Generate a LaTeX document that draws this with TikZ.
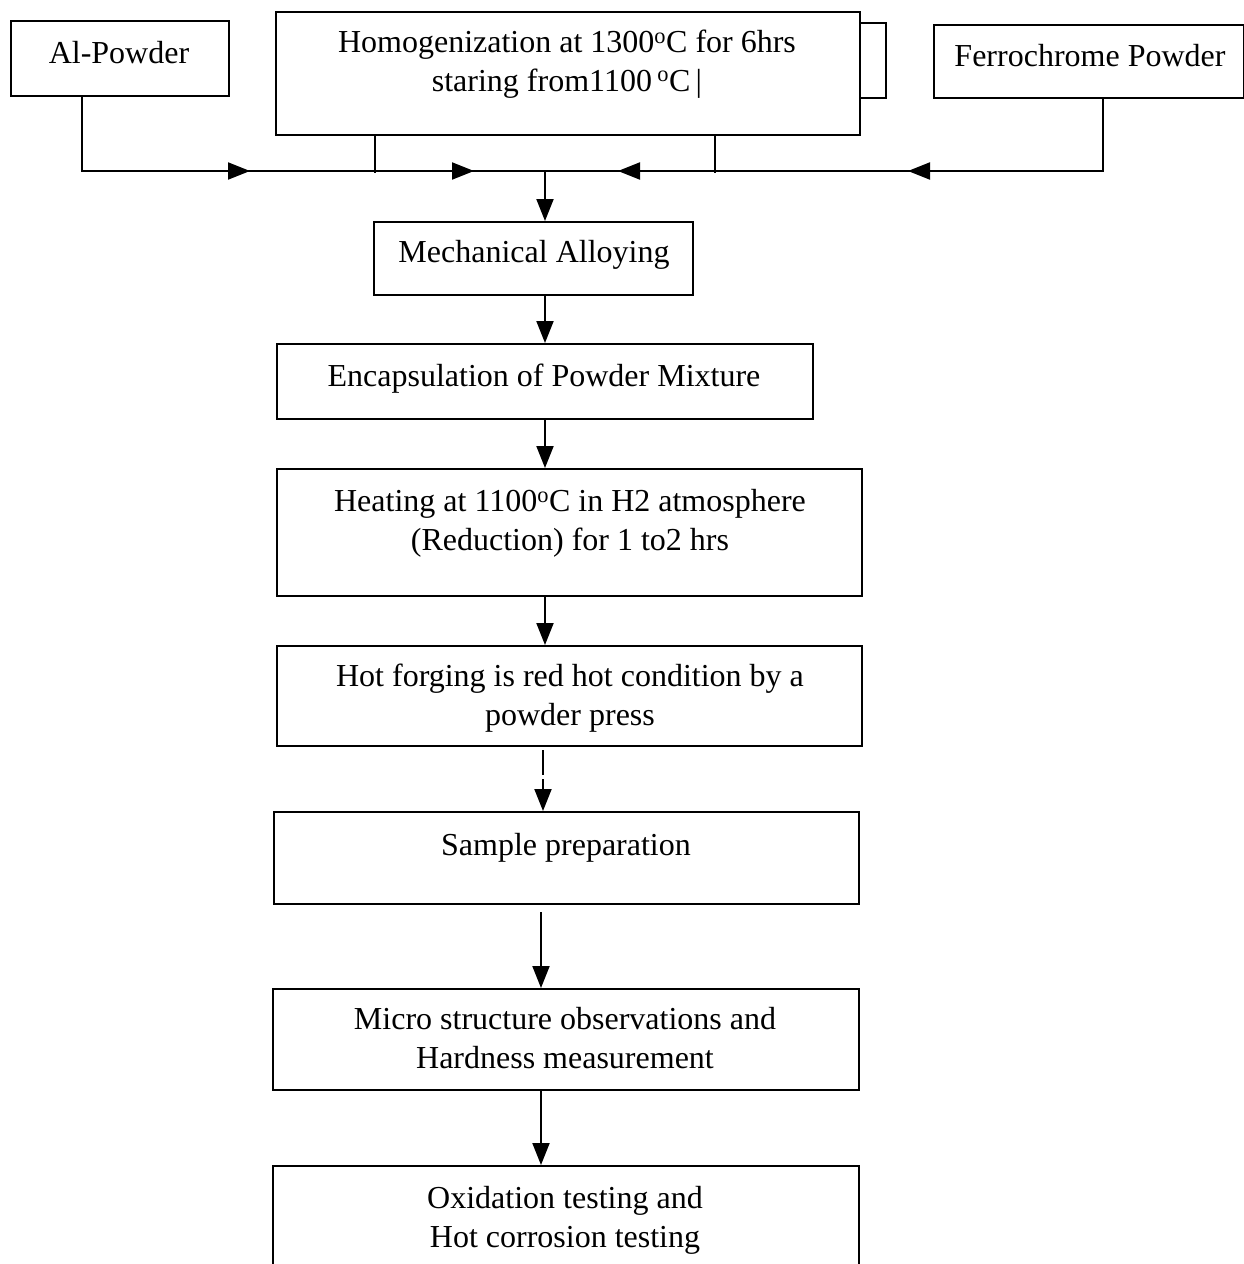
\documentclass[tikz,border=0pt]{standalone}
\usepackage{fontspec}
\setmainfont{Liberation Serif}
\usetikzlibrary{arrows.meta,calc}
\begin{document}
\begin{tikzpicture}[x=1pt,y=-1pt,
  box/.style={draw, line width=2pt, inner sep=0pt, anchor=north west},
  lbl/.style={font=\fontsize{32}{38.5}\selectfont, align=center, anchor=base, inner sep=0pt},
  ln/.style={line width=2pt},
  arr/.style={line width=2pt, -{Triangle[length=22pt,width=17pt]}}]
\useasboundingbox[fill=white] (0,0) rectangle (1244,1264);
% boxes
\node[box, minimum width=218pt, minimum height=75pt] (al) at (10,20) {};
\node[box, minimum width=584pt, minimum height=123pt] (hom) at (275,11) {};
\node[box, minimum width=26pt, minimum height=75pt] (homx) at (859,22) {};
\node[box, minimum width=310pt, minimum height=73pt] (fe) at (933,24) {};
\node[box, minimum width=319pt, minimum height=73pt] (mech) at (373,221) {};
\node[box, minimum width=536pt, minimum height=75pt] (enc) at (276,343) {};
\node[box, minimum width=585pt, minimum height=127pt] (heat) at (276,468) {};
\node[box, minimum width=585pt, minimum height=100pt] (hot) at (276,645) {};
\node[box, minimum width=585pt, minimum height=92pt] (samp) at (273,811) {};
\node[box, minimum width=586pt, minimum height=101pt] (micro) at (272,988) {};
\node[box, minimum width=586pt, minimum height=130pt] (oxid) at (272,1165) {};
% texts (multi-line: anchor base = last line's baseline)
\node[lbl] (alt) at (119,63) {Al-Powder};
\node[lbl] (homt) at (567,91) {Homogenization at 1300\textsuperscript{o}C for 6hrs\\staring from1100\,\textsuperscript{o}C\,|};
\node[lbl] (fet) at (1090,66) {Ferrochrome Powder};
\node[lbl] (mecht) at (534,262) {Mechanical Alloying};
\node[lbl] (enct) at (544,386) {Encapsulation of Powder Mixture};
\node[lbl] (heatt) at (570,550) {Heating at 1100\textsuperscript{o}C in H2 atmosphere\\(Reduction) for 1 to2 hrs};
\node[lbl] (hott) at (570,725) {Hot forging is red hot condition by a\\powder press};
\node[lbl] (sampt) at (566,855) {Sample preparation};
\node[lbl] (microt) at (565,1068) {Micro structure observations and\\Hardness measurement};
\node[lbl] (oxidt) at (565,1247) {Oxidation testing and\\Hot corrosion testing};
% collector line
\coordinate (bus) at (545,171);
\coordinate (t1) at (250,171);
\coordinate (t2) at (474,171);
\coordinate (t3) at (618,171);
\coordinate (t4) at (908,171);
\coordinate (c2) at (543,0);
\coordinate (c3) at (541,0);
\draw[ln] ([xshift=72pt]al.south west) |- (bus);
\draw[ln] ([xshift=170pt]fe.south west) |- (bus);
\draw[arr] ([xshift=-24pt]t1) -- (t1);
\draw[arr] ([xshift=-24pt]t2) -- (t2);
\draw[arr] ([xshift=24pt]t3) -- (t3);
\draw[arr] ([xshift=24pt]t4) -- (t4);
\draw[ln] ([xshift=100pt]hom.south west) -- ++(0,37);
\draw[ln] ([xshift=440pt]hom.south west) -- ++(0,37);
% vertical flow
\draw[arr] (bus) -- (mech.north -| bus);
\draw[arr] (mech.south -| bus) -- (enc.north -| bus);
\draw[arr] (enc.south -| bus) -- (heat.north -| bus);
\draw[arr] (heat.south -| bus) -- (hot.north -| bus);
\draw[ln] ([yshift=-3pt]hot.south -| c2) -- ++(0,25);
\draw[arr] ([yshift=32pt]samp.north -| c2) -- (samp.north -| c2);
\draw[arr] ([yshift=-7pt]samp.south -| c3) -- (micro.north -| c3);
\draw[arr] (micro.south -| c3) -- (oxid.north -| c3);
\end{tikzpicture}
\end{document}
